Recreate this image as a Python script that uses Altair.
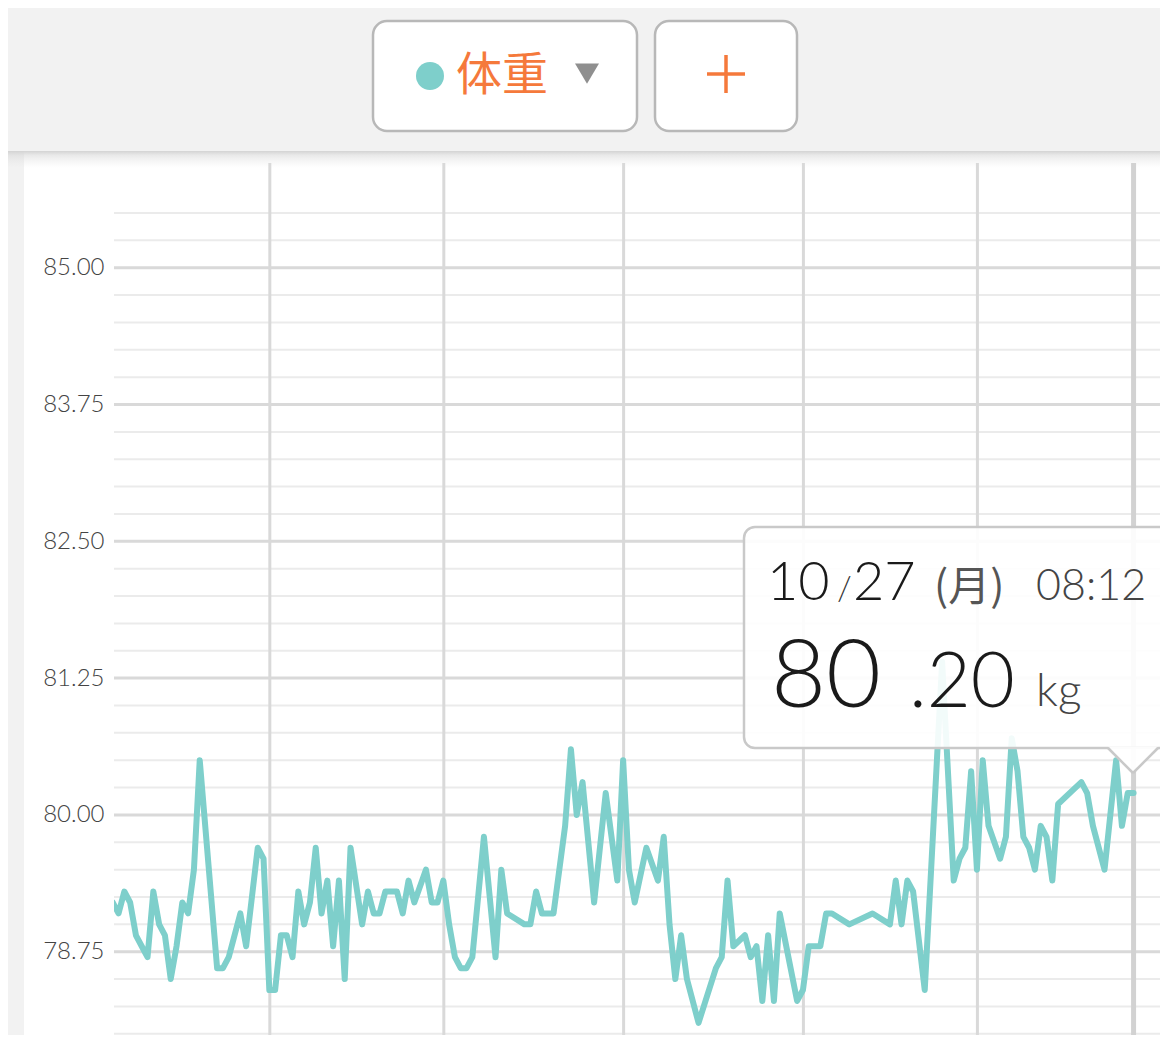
import altair as alt
import pandas as pd

# ------------------------------------------------------------------
# Data (weights in kg, one weigh-in per day around 08:00, 2014)
# ------------------------------------------------------------------
YEAR = 2014
may_days = [4, 5, 6, 7, 8, 9, 10, 11, 12, 13, 14, 15, 16, 17, 18, 19, 22, 23, 24, 26, 27, 29, 30, 31]
may_kg = [79.2, 79.1, 79.3, 79.2, 78.9, 78.8, 78.7, 79.3, 79.0, 78.9, 78.5, 78.8, 79.2, 79.1, 79.5, 80.5,
          78.6, 78.6, 78.7, 79.1, 78.8, 79.7, 79.6, 78.4]
jun_days = [1, 2, 3, 4, 5, 6, 7, 8, 9, 10, 11, 12, 13, 14, 16, 17, 18, 19, 20, 21, 22, 23, 24, 25, 27, 28, 29, 30]
jun_kg = [78.4, 78.9, 78.9, 78.7, 79.3, 79.0, 79.2, 79.7, 79.1, 79.4, 78.8, 79.4, 78.5, 79.7,
          79.0, 79.3, 79.1, 79.1, 79.3, 79.3, 79.3, 79.1, 79.4, 79.2, 79.5, 79.2, 79.2, 79.4]
jul_days = [1, 2, 3, 4, 5, 7, 9, 10, 11, 14, 15, 16, 17, 18, 19, 21, 22, 23, 24, 26, 28, 30, 31]
jul_kg = [79.0, 78.7, 78.6, 78.6, 78.7, 79.8, 78.7, 79.5, 79.1, 79.0, 79.0, 79.3, 79.1, 79.1, 79.1,
          79.9, 80.6, 80.0, 80.3, 79.2, 80.2, 79.4, 80.5]
aug_days = [1, 2, 4, 6, 7, 8, 9, 10, 11, 13, 16, 17, 18, 19, 21, 22, 23, 24, 25, 26, 27, 30, 31]
aug_kg = [79.5, 79.2, 79.7, 79.4, 79.8, 79.0, 78.5, 78.9, 78.5, 78.1, 78.6, 78.7, 79.4, 78.8, 78.9,
          78.7, 78.8, 78.3, 78.9, 78.3, 79.1, 78.3, 78.4]
sep_days = [1, 2, 3, 4, 5, 8, 12, 15, 16, 17, 18, 19, 21, 24, 26, 27, 28, 29, 30]
sep_kg = [78.8, 78.8, 78.8, 79.1, 79.1, 79.0, 79.1, 79.0, 79.4, 79.0, 79.4, 79.3, 78.4, 81.4,
          79.4, 79.6, 79.7, 80.4, 79.5]
oct_days = [1, 2, 3, 4, 5, 6, 7, 8, 9, 10, 11, 12, 13, 14, 18, 19, 20, 22, 24, 25, 26, 27]
oct_kg = [80.5, 79.9, 79.75, 79.6, 79.8, 80.7, 80.4, 79.8, 79.7, 79.5, 79.9, 79.8, 79.4, 80.1,
          80.3, 80.2, 79.9, 79.5, 80.5, 79.9, 80.2, 80.2]

selected_time = "2014-10-27 08:12"
selected_kg = 80.20
month_lines = ["2014-05-31 10:00", "2014-06-30 10:00", "2014-07-31 10:00",
               "2014-08-31 10:00", "2014-09-30 10:00"]
major_ticks = [78.75, 80.0, 81.25, 82.5, 83.75, 85.0]
minor_ticks = [78.0, 78.25, 78.5, 79.0, 79.25, 79.5, 79.75, 80.25, 80.5, 80.75, 81.0, 81.5,
               81.75, 82.0, 82.25, 82.75, 83.0, 83.25, 83.5, 84.0, 84.25, 84.5, 84.75, 85.25, 85.5]
y_domain = [77.989, 85.957]

tab_label = "体重"
tip_month, tip_sep, tip_day = "10", "/", "27"
tip_weekday = "(月)"
tip_clock = "08:12"
tip_int, tip_dec, tip_unit = "80", ".20", "kg"

# ------------------------------------------------------------------
rows = []
for m, days, kgs in [(5, may_days, may_kg), (6, jun_days, jun_kg), (7, jul_days, jul_kg),
                     (8, aug_days, aug_kg), (9, sep_days, sep_kg), (10, oct_days, oct_kg)]:
    assert len(days) == len(kgs)
    for d, kg in zip(days, kgs):
        rows.append({"date": pd.Timestamp(YEAR, m, d, 8, 0), "weight": kg})
rows[-1]["date"] = pd.Timestamp(selected_time)
df = pd.DataFrame(rows)

months_df = pd.DataFrame({"date": pd.to_datetime(month_lines)})
cursor_df = pd.DataFrame({"date": [pd.Timestamp(selected_time)], "weight": [selected_kg]})
minor_df = pd.DataFrame({"v": minor_ticks})
major_df = pd.DataFrame({"v": major_ticks})
one = pd.DataFrame({"k": [0]})

W, H = 1046, 872
OX, OY = 114, 163   # page position of the plot origin


def px(X):
    return X - OX


def py(Y):
    return Y - OY


x_scale = alt.Scale(domain=[alt.DateTime(year=2014, month=5, date=4, hours=13, minutes=15),
                            alt.DateTime(year=2014, month=10, date=31, hours=21, minutes=32)])
y_scale = alt.Scale(domain=y_domain, nice=False, zero=False)

TEAL = "#7ecfcb"
ORANGE = "#f5793b"
LATO = "Lato"
CJK = "Noto Sans CJK JP"

y_axis = alt.Axis(values=major_ticks, format=".2f", title=None, grid=False, zindex=1,
                  ticks=False, domain=False, labelPadding=10, labelFont=LATO, labelFontSize=24,
                  labelFontWeight=300, labelColor="#444444", labelBaseline="middle")

# ---------------- app chrome ----------------
card = alt.Chart(one).mark_rect(color="white").encode(
    x=alt.value(px(24)), x2=alt.value(px(1168)), y=alt.value(py(151)), y2=alt.value(py(1060)))

shadow = alt.Chart(one).mark_rect(
    fill=alt.LinearGradient(
        gradient="linear",
        stops=[alt.GradientStop(color="#d3d3d3", offset=0),
               alt.GradientStop(color="rgba(215,215,215,0.55)", offset=0.25),
               alt.GradientStop(color="rgba(230,230,230,0)", offset=1)],
        x1=0, x2=0, y1=0, y2=1)
).encode(x=alt.value(px(0)), x2=alt.value(px(1168)), y=alt.value(py(151)), y2=alt.value(py(168)))

btn1 = alt.Chart(one).mark_rect(fill="white", stroke="#b8b8b8", strokeWidth=2.5, cornerRadius=14).encode(
    x=alt.value(px(373)), x2=alt.value(px(637)), y=alt.value(py(21)), y2=alt.value(py(131)))
btn2 = alt.Chart(one).mark_rect(fill="white", stroke="#b8b8b8", strokeWidth=2.5, cornerRadius=14).encode(
    x=alt.value(px(655)), x2=alt.value(px(797)), y=alt.value(py(21)), y2=alt.value(py(131)))

dot = alt.Chart(one).mark_point(filled=True, shape="circle", size=784, color=TEAL, opacity=1).encode(
    x=alt.value(px(430)), y=alt.value(py(76)))
tab_text = alt.Chart(one).mark_text(text=tab_label, font=CJK, fontSize=46, color=ORANGE,
                                    align="left", baseline="middle").encode(
    x=alt.value(px(456)), y=alt.value(py(76)))
tri = alt.Chart(one).mark_point(shape="M-1,-0.8L1,-0.8L0,0.9Z", size=576, filled=True,
                                color="#8f8f8f", opacity=1).encode(
    x=alt.value(px(587)), y=alt.value(py(73)))
plus_h = alt.Chart(one).mark_rule(color=ORANGE, strokeWidth=3.5).encode(
    x=alt.value(px(707)), x2=alt.value(px(745)), y=alt.value(py(74)), y2=alt.value(py(74)))
plus_v = alt.Chart(one).mark_rule(color=ORANGE, strokeWidth=3.5).encode(
    x=alt.value(px(726)), x2=alt.value(px(726)), y=alt.value(py(55)), y2=alt.value(py(93)))

# ---------------- chart ----------------
minor = alt.Chart(minor_df).mark_rule(color="#ebebeb", strokeWidth=2).encode(
    y=alt.Y("v:Q", scale=y_scale, axis=y_axis))
major = alt.Chart(major_df).mark_rule(color="#d9d9d9", strokeWidth=3).encode(
    y=alt.Y("v:Q", scale=y_scale, axis=y_axis))

month_rules = alt.Chart(months_df).mark_rule(color="#d9d9d9", strokeWidth=3).encode(
    x=alt.X("date:T", scale=x_scale, axis=None))

cursor = alt.Chart(cursor_df).mark_rule(color="#d2d2d2", strokeWidth=5).encode(
    x=alt.X("date:T", scale=x_scale, axis=None))

line = alt.Chart(df).mark_line(color=TEAL, strokeWidth=6, strokeJoin="round", strokeCap="round",
                               clip=True).encode(
    x=alt.X("date:T", scale=x_scale, axis=None),
    y=alt.Y("weight:Q", scale=y_scale, axis=y_axis))

# ---------------- tooltip ----------------
box = alt.Chart(one).mark_rect(fill="white", fillOpacity=0.9, stroke="#c9c9c9", strokeWidth=2.5,
                               cornerRadius=11).encode(
    x=alt.value(px(744)), x2=alt.value(px(1185)), y=alt.value(py(527)), y2=alt.value(py(748)))
notch = alt.Chart(one).mark_point(shape="M-1,-1.06L1,-1.06L0,0Z", size=2500, filled=True,
                                  color="white", opacity=1, fillOpacity=0.95).encode(
    x=alt.value(px(1133)), y=alt.value(py(773)))
notch_l = alt.Chart(one).mark_rule(color="#c9c9c9", strokeWidth=2.5).encode(
    x=alt.value(px(1108)), y=alt.value(py(748)), x2=alt.value(px(1133)), y2=alt.value(py(773)))
notch_r = alt.Chart(one).mark_rule(color="#c9c9c9", strokeWidth=2.5).encode(
    x=alt.value(px(1133)), y=alt.value(py(773)), x2=alt.value(px(1158)), y2=alt.value(py(748)))


def txt(s, X, Y, size, color="#1a1a1a", font=LATO, weight=300):
    return alt.Chart(one).mark_text(text=s, font=font, fontSize=size, fontWeight=weight, color=color,
                                    align="left", baseline="alphabetic").encode(
        x=alt.value(px(X)), y=alt.value(py(Y)))


texts = [
    txt(tip_month, 767, 600, 54),
    txt(tip_sep, 837, 600, 34, color="#333333"),
    txt(tip_day, 853, 600, 54),
    txt(tip_weekday, 934, 601, 42, color="#555555", font=CJK, weight=400),
    txt(tip_clock, 1036, 600, 43, color="#444444"),
    txt(tip_int, 771, 707, 95),
    txt(tip_dec, 909, 707, 76),
    txt(tip_unit, 1036, 706, 46, color="#444444"),
]

chart = alt.layer(
    card, shadow, btn1, btn2, dot, tab_text, tri, plus_h, plus_v,
    minor, major, month_rules, cursor, line,
    box, notch, notch_l, notch_r, *texts
).properties(
    width=W, height=H,
    autosize=alt.AutoSizeParams(type="none"),
    padding={"left": 106, "top": 155, "right": 0, "bottom": 0},
).configure(background="#f2f2f2").configure_view(stroke=None)

chart.save("out.html", embed_options={"renderer": "svg", "actions": False})
